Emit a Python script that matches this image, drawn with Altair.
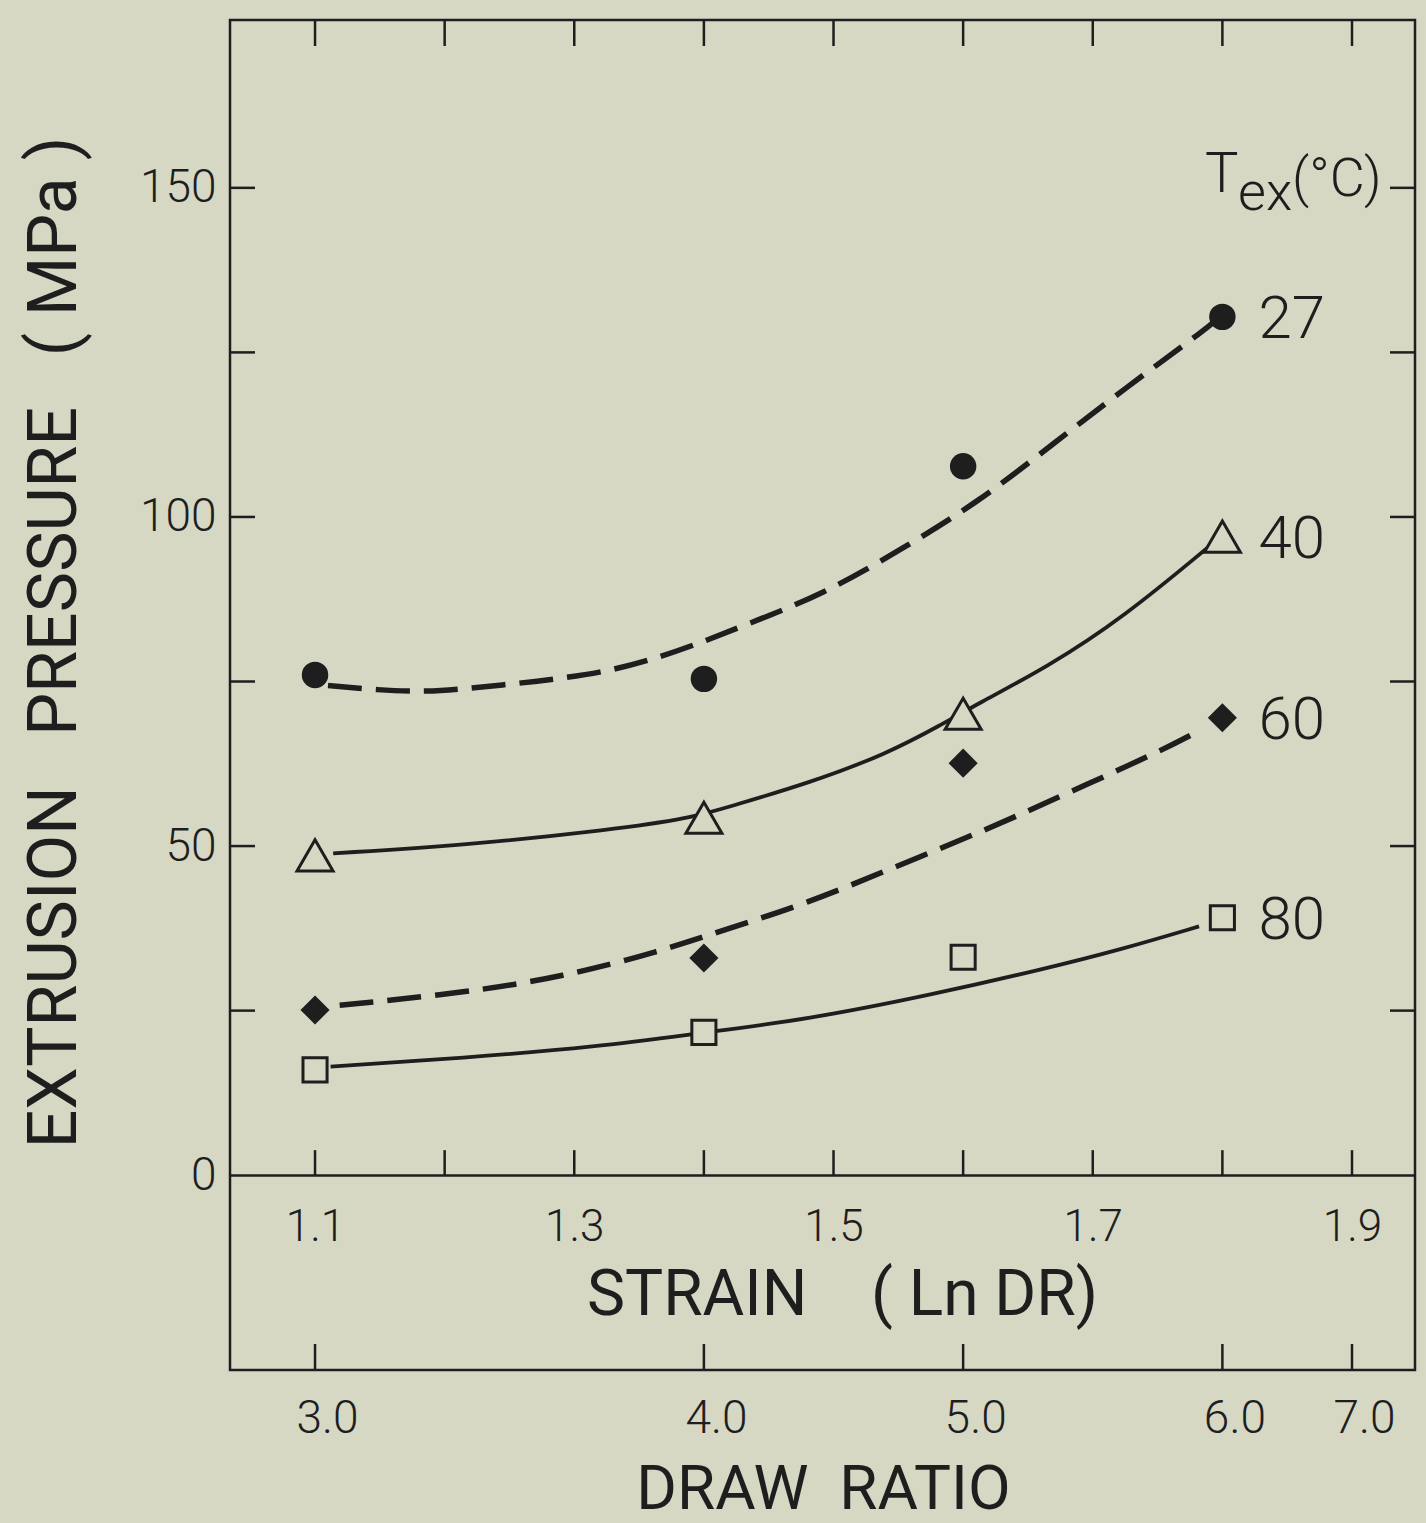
import altair as alt
import pandas as pd

# ---------------- data ----------------
temps = ["27", "40", "60", "80"]
strain_pts = [1.10, 1.40, 1.60, 1.80]
p27 = [76.0, 75.4, 107.7, 130.4]
p40 = [48.6, 54.3, 70.1, 97.0]
p60 = [25.1, 33.0, 62.6, 69.5]
p80 = [16.0, 21.7, 33.1, 39.1]

# fitted curves
c27_x = [1.110, 1.148, 1.186, 1.220, 1.256, 1.291, 1.330, 1.366, 1.399, 1.428, 1.493, 1.555, 1.612, 1.670, 1.724, 1.780, 1.792]
c27_y = [74.4, 73.7, 73.4, 74.0, 74.7, 75.5, 76.7, 78.7, 81.0, 83.3, 88.3, 95.4, 102.3, 111.2, 119.4, 127.5, 129.4]
c40_x = [1.114, 1.214, 1.330, 1.389, 1.4215, 1.4815, 1.541, 1.583, 1.611, 1.665, 1.724, 1.789]
c40_y = [48.9, 50.1, 52.5, 54.2, 56.1, 59.6, 64.0, 68.4, 71.6, 77.2, 84.8, 95.4]
c60_x = [1.119, 1.214, 1.291, 1.368, 1.413, 1.480, 1.547, 1.617, 1.679, 1.752, 1.781]
c60_y = [25.8, 27.7, 30.1, 34.1, 37.1, 41.3, 46.8, 52.4, 57.9, 64.4, 67.4]
c80_x = [1.112, 1.214, 1.318, 1.397, 1.481, 1.571, 1.662, 1.722, 1.782]
c80_y = [16.5, 17.8, 19.5, 21.6, 23.7, 27.2, 31.3, 34.3, 37.8]

strain_tick_vals = [1.1, 1.2, 1.3, 1.4, 1.5, 1.6, 1.7, 1.8, 1.9]
strain_label_vals = [1.1, 1.3, 1.5, 1.7, 1.9]
dr_pos = [1.1, 1.4, 1.6, 1.8, 1.9]
dr_labels = ["3.0", "4.0", "5.0", "6.0", "7.0"]
pressure_tick_vals = [25, 50, 75, 100, 125, 150]
pressure_label_vals = [0, 50, 100, 150]
legend_title_parts = ["T", "ex", "(°C)"]

NB = "\u00a0"
y_title = f"EXTRUSION{NB}{NB} PRESSURE{NB}{NB} ( MPa )"
strain_title = f"STRAIN{NB}{NB}{NB} ( Ln DR)"
dr_title = f"DRAW{NB} RATIO"

# ---------------- style ----------------
BG = "#d6d8c4"
INK = "#1e1e1e"
FONT = "Roboto"
W, H = 1185, 1350

xscale = alt.Scale(domain=[1.0344, 1.9486], nice=False, zero=False)
yscale = alt.Scale(domain=[-29.6, 175.5], nice=False, zero=False)

pts_df = pd.DataFrame({
    "strain": strain_pts * 4,
    "pressure": p27 + p40 + p60 + p80,
    "temp": [t for t in temps for _ in strain_pts],
})

rows = []
for t, xs, ys in [("27", c27_x, c27_y), ("40", c40_x, c40_y), ("60", c60_x, c60_y), ("80", c80_x, c80_y)]:
    for i, (a, b) in enumerate(zip(xs, ys)):
        rows.append({"temp": t, "i": i, "strain": a, "pressure": b})
curves_df = pd.DataFrame(rows)


def X(field, axis=None):
    return alt.X(field, type="quantitative", scale=xscale, axis=axis)


def Y(field, axis=None):
    return alt.Y(field, type="quantitative", scale=yscale, axis=axis)


# ---------------- curves ----------------
dashed = alt.Chart(curves_df).transform_filter(
    alt.FieldOneOfPredicate(field="temp", oneOf=["27", "60"])
).mark_line(color=INK, strokeWidth=5.5, strokeDash=[34, 14], interpolate="basis").encode(
    x=X("strain"), y=Y("pressure"), detail="temp:N", order="i:Q"
)
solid = alt.Chart(curves_df).transform_filter(
    alt.FieldOneOfPredicate(field="temp", oneOf=["40", "80"])
).mark_line(color=INK, strokeWidth=3.8, interpolate="basis").encode(
    x=X("strain"), y=Y("pressure"), detail="temp:N", order="i:Q"
)

# ---------------- markers ----------------
def pts(temp, **kw):
    return alt.Chart(pts_df).transform_filter(alt.datum.temp == temp).mark_point(
        filled=True, opacity=1, **kw
    ).encode(x=X("strain"), y=Y("pressure"))

m27 = pts("27", shape="circle", size=700, fill=INK, strokeWidth=0)
m40 = pts("40", shape="triangle-up", size=1300, fill=BG, stroke=INK, strokeWidth=3)
m60 = pts("60", shape="diamond", size=850, fill=INK, strokeWidth=0)
m80 = pts("80", shape="square", size=580, fill=BG, stroke=INK, strokeWidth=3)

labels = alt.Chart(pts_df).transform_filter(alt.datum.strain == 1.8).mark_text(
    align="left", baseline="middle", dx=36, dy=3, fontSize=60, font=FONT, fontWeight=300, color=INK
).encode(x=X("strain"), y=Y("pressure"), text="temp:N")

# ---------------- axes & ticks ----------------
strain_axis = alt.Axis(
    orient="bottom", offset=-195, values=strain_label_vals, format=".1f",
    ticks=False, domain=True, domainColor=INK, domainWidth=2.5, grid=False,
    labelFont=FONT, labelFontSize=44, labelFontWeight=300, labelColor=INK, labelPadding=30,
    labelFlush=False, labelOverlap=False,
    title=strain_title, titleFont=FONT, titleFontSize=64, titleFontWeight=400,
    titleColor=INK, titleX=612, titleY=120, titleAlign="center", titleBaseline="middle",
)

expr = "''"
for p, l in reversed(list(zip(dr_pos, dr_labels))):
    expr = f"abs(datum.value - {p}) < 0.01 ? '{l}' : ({expr})"

dr_axis = alt.Axis(
    orient="bottom", offset=0, values=dr_pos, labelExpr=expr,
    ticks=False, domain=False, grid=False,
    labelFont=FONT, labelFontSize=46, labelFontWeight=300, labelColor=INK, labelPadding=26,
    labelOffset=12, labelFlush=False, labelOverlap=False,
    title=dr_title, titleFont=FONT, titleFontSize=62, titleFontWeight=400,
    titleColor=INK, titleX=593, titleY=138, titleAlign="center", titleBaseline="alphabetic",
)

y_axis = alt.Axis(
    orient="left", values=pressure_label_vals, ticks=False, domain=False, grid=False,
    labelFont=FONT, labelFontSize=46, labelFontWeight=300, labelColor=INK, labelPadding=14,
    title=y_title, titleFont=FONT, titleFontSize=68, titleFontWeight=400,
    titleColor=INK, titleX=-175, titleY=622, titleAngle=270, titleAlign="center", titleBaseline="middle",
)

stick_df = pd.DataFrame({"s": strain_tick_vals})
ptick_df = pd.DataFrame({"p": pressure_tick_vals})
drtick_df = pd.DataFrame({"s": dr_pos})

top_ticks = alt.Chart(stick_df).mark_rule(color=INK, strokeWidth=2.5).encode(
    x=X("s"), y=alt.value(0), y2=alt.value(26)
)
strain_ticks = alt.Chart(stick_df).mark_rule(color=INK, strokeWidth=2.5).encode(
    x=X("s", axis=strain_axis), y=alt.YDatum(0, scale=yscale, axis=None), y2=alt.Y2Datum(3.8)
)
dr_ticks = alt.Chart(drtick_df).mark_rule(color=INK, strokeWidth=2.5).encode(
    x=X("s", axis=dr_axis), y=alt.value(H), y2=alt.value(H - 26)
)
left_ticks = alt.Chart(ptick_df).mark_rule(color=INK, strokeWidth=2.5).encode(
    y=Y("p", axis=y_axis), x=alt.value(0), x2=alt.value(25)
)
right_ticks = alt.Chart(ptick_df).mark_rule(color=INK, strokeWidth=2.5).encode(
    y=Y("p"), x=alt.value(W), x2=alt.value(W - 25)
)

# ---------------- T_ex (°C) heading ----------------
t_main = alt.Chart(pd.DataFrame({"t": [legend_title_parts[0]]})).mark_text(
    align="left", baseline="alphabetic", fontSize=56, font=FONT, fontWeight=300, color=INK
).encode(text="t:N", x=alt.value(975), y=alt.value(172))
t_sub = alt.Chart(pd.DataFrame({"t": [legend_title_parts[1]]})).mark_text(
    align="left", baseline="alphabetic", fontSize=54, font=FONT, fontWeight=300, color=INK
).encode(text="t:N", x=alt.value(1008), y=alt.value(190))
t_unit = alt.Chart(pd.DataFrame({"t": [legend_title_parts[2]]})).mark_text(
    align="left", baseline="alphabetic", fontSize=54, font=FONT, fontWeight=300, color=INK
).encode(text="t:N", x=alt.value(1062), y=alt.value(176))

chart = alt.layer(
    left_ticks, top_ticks, right_ticks, strain_ticks, dr_ticks,
    dashed, solid, m27, m40, m60, m80, labels, t_main, t_sub, t_unit,
).resolve_axis(x="independent", y="independent").properties(
    width=W, height=H,
    autosize=alt.AutoSizeParams(type="none"),
    padding={"left": 230, "top": 20, "right": 11, "bottom": 153},
    background=BG,
).configure_view(stroke=INK, strokeWidth=2.5)

chart.save("out.html", embed_options={"renderer": "svg", "actions": False})
